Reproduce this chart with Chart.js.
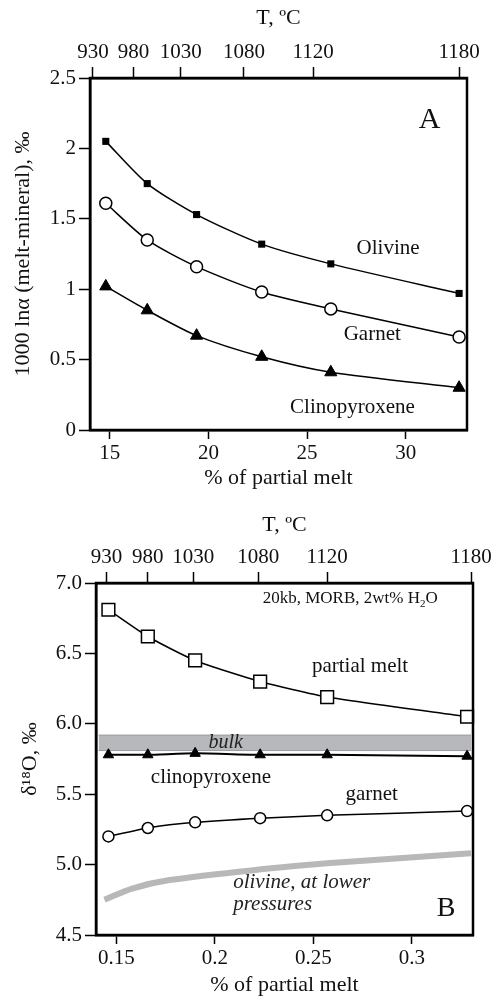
<!DOCTYPE html>
<html>
<head>
<meta charset="utf-8">
<script src="https://cdn.jsdelivr.net/npm/chart.js@4.4.0/dist/chart.umd.min.js"></script>
<style>
  html, body { margin: 0; padding: 0; background: #fff; }
  .box { position: absolute; left: 0; width: 497px; }
</style>
</head>
<body>
<div class="box" style="top:0;height:495px"><canvas id="chartA" width="497" height="495"></canvas></div>
<div class="box" style="top:498px;height:500px"><canvas id="chartB" width="497" height="500"></canvas></div>
<script>
// panel A: 1000 ln(alpha) vs % of partial melt
const meltA = [14.8, 16.9, 19.4, 22.7, 26.2, 32.7];
const olivineA = [2.05, 1.75, 1.53, 1.32, 1.18, 0.97];
const garnetA = [1.61, 1.35, 1.16, 0.98, 0.86, 0.66];
const cpxA = [1.02, 0.85, 0.67, 0.52, 0.41, 0.30];
const xTicksA = [15, 20, 25, 30];
const yTicksA = [0, 0.5, 1, 1.5, 2, 2.5];
const tempLabels = ['930', '980', '1030', '1080', '1120', '1180'];
const tempAtMeltA = [14.15, 16.2, 18.6, 21.8, 25.3, 32.7];

// panel B: d18O vs fraction of partial melt
const meltB = [0.146, 0.166, 0.190, 0.223, 0.257, 0.328];
const partialMeltB = [6.81, 6.62, 6.45, 6.30, 6.19, 6.05];
const cpxB = [5.78, 5.78, 5.79, 5.78, 5.78, 5.77];
const garnetB = [5.20, 5.26, 5.30, 5.33, 5.35, 5.38];
const olivineMeltB = [0.144, 0.158, 0.177, 0.226, 0.257, 0.330];
const olivineB = [4.75, 4.83, 4.89, 4.97, 5.01, 5.08];
const bulkMeltB = [0.141, 0.330];
const bulkLowB = [5.81, 5.81];
const bulkHighB = [5.92, 5.92];
const xTicksB = [0.15, 0.2, 0.25, 0.3];
const yTicksB = [4.5, 5.0, 5.5, 6.0, 6.5, 7.0];
const tempAtMeltB = [0.145, 0.166, 0.189, 0.222, 0.257, 0.330];

const FONT = '"Liberation Serif", "Times New Roman", serif';
Chart.defaults.font.family = FONT;
Chart.defaults.color = '#111';

const pts = (xs, ys) => xs.map((x, i) => ({ x: x, y: ys[i] }));
const ticksAt = values => scale => { scale.ticks = values.map(v => ({ value: v })); };

// box around the plot area
const framePlugin = {
  id: 'frame',
  afterDatasetsDraw(chart) {
    const { ctx, chartArea: a } = chart;
    ctx.save();
    ctx.strokeStyle = '#000';
    ctx.lineWidth = 2.5;
    ctx.strokeRect(a.left, a.top, a.right - a.left, a.bottom - a.top);
    ctx.restore();
  }
};

// text notes placed in data units
function notesPlugin(notes) {
  return {
    id: 'notes',
    afterDatasetsDraw(chart) {
      const ctx = chart.ctx, sx = chart.scales.x, sy = chart.scales.y;
      ctx.save();
      ctx.textBaseline = 'middle';
      ctx.textAlign = 'left';
      notes.forEach(n => {
        const parts = n.parts || [[n.text, false]];
        const font = sub => (n.italic ? 'italic ' : '') + (sub ? Math.round(n.size * 0.65) : n.size) + 'px ' + FONT;
        let w = 0;
        parts.forEach(p => { ctx.font = font(p[1]); w += ctx.measureText(p[0]).width; });
        let px = sx.getPixelForValue(n.x);
        if (n.align === 'center') px -= w / 2;
        const py = sy.getPixelForValue(n.y);
        ctx.fillStyle = n.color || '#111';
        parts.forEach(p => {
          ctx.font = font(p[1]);
          ctx.fillText(p[0], px, py + (p[1] ? n.size * 0.3 : 0));
          px += ctx.measureText(p[0]).width;
        });
      });
      ctx.restore();
    }
  };
}

function tickGrid(len) {
  return { drawOnChartArea: false, drawTicks: true, tickLength: len, tickWidth: 1.5, tickColor: '#000' };
}
const border = { color: '#000', width: 2.5 };

function makeChart(id, cfg) {
  return new Chart(document.getElementById(id), {
    type: 'line',
    data: { datasets: cfg.datasets },
    options: {
      responsive: false,
      animation: false,
      devicePixelRatio: 1,
      layout: { padding: { left: 0, right: cfg.right, top: 0, bottom: 0 } },
      plugins: { legend: { display: false }, tooltip: { enabled: false } },
      scales: {
        x: {
          type: 'linear', position: 'bottom', min: cfg.xMin, max: cfg.xMax,
          afterBuildTicks: ticksAt(cfg.xTicks),
          afterFit: s => { s.height = cfg.bottomH; },
          grid: tickGrid(9), border: border,
          ticks: { font: { size: 21 }, padding: cfg.xPad, maxRotation: 0, minRotation: 0, autoSkip: false,
                   callback: v => String(v) },
          title: { display: true, text: '% of partial melt', font: { size: 22 }, padding: { top: 0, bottom: cfg.xTitlePad } }
        },
        xTop: {
          type: 'linear', axis: 'x', position: 'top', min: cfg.xMin, max: cfg.xMax,
          afterBuildTicks: ticksAt(cfg.tempTicks),
          afterFit: s => { s.height = cfg.topH; },
          grid: tickGrid(11), border: border,
          ticks: { font: { size: 21 }, padding: cfg.topPad, maxRotation: 0, minRotation: 0, autoSkip: false,
                   callback: (v, i) => tempLabels[i] },
          title: { display: true, text: 'T, ºC', font: { size: 22 }, padding: { top: cfg.topTitlePad, bottom: 0 } }
        },
        y: {
          type: 'linear', position: 'left', min: cfg.yMin, max: cfg.yMax,
          afterBuildTicks: ticksAt(cfg.yTicks),
          afterFit: s => { s.width = cfg.leftW; },
          grid: tickGrid(11), border: border,
          ticks: { font: { size: 21 }, padding: 3, callback: cfg.yFmt },
          title: { display: true, text: cfg.yTitle, font: { size: 22 }, padding: { top: cfg.yTitlePad, bottom: 0 } }
        }
      }
    },
    plugins: [framePlugin, notesPlugin(cfg.notes)]
  });
}

makeChart('chartA', {
  right: 30, leftW: 90, topH: 78, bottomH: 65,
  xMin: 14, xMax: 33.1, yMin: 0, yMax: 2.5,
  xTicks: xTicksA, yTicks: yTicksA, tempTicks: tempAtMeltA,
  xPad: 2, xTitlePad: 4, topPad: 2, topTitlePad: 5, yTitlePad: 10,
  yFmt: v => String(v),
  yTitle: '1000 lnα (melt-mineral), ‰',
  datasets: [
    { data: pts(meltA, olivineA), borderColor: '#000', borderWidth: 1.5, tension: 0.25, clip: false,
      pointStyle: 'rect', pointRadius: 5, pointBackgroundColor: '#000', pointBorderColor: '#000', pointBorderWidth: 0 },
    { data: pts(meltA, garnetA), borderColor: '#000', borderWidth: 1.5, tension: 0.25, clip: false,
      pointStyle: 'circle', pointRadius: 6, pointBackgroundColor: '#fff', pointBorderColor: '#000', pointBorderWidth: 1.5 },
    { data: pts(meltA, cpxA), borderColor: '#000', borderWidth: 1.5, tension: 0.25, clip: false,
      pointStyle: 'triangle', pointRadius: 7, pointBackgroundColor: '#000', pointBorderColor: '#000', pointBorderWidth: 1 }
  ],
  notes: [
    { text: 'A', x: 31.2, y: 2.2, size: 30, align: 'center' },
    { text: 'Olivine', x: 29.1, y: 1.29, size: 21, align: 'center' },
    { text: 'Garnet', x: 28.3, y: 0.68, size: 21, align: 'center' },
    { text: 'Clinopyroxene', x: 27.3, y: 0.16, size: 21, align: 'center' }
  ]
});

makeChart('chartB', {
  right: 24, leftW: 96, topH: 85, bottomH: 63,
  xMin: 0.1397, xMax: 0.331, yMin: 4.5, yMax: 7.0,
  xTicks: xTicksB, yTicks: yTicksB, tempTicks: tempAtMeltB,
  xPad: 2, xTitlePad: 0, topPad: 2, topTitlePad: 14, yTitlePad: 17,
  yFmt: v => v.toFixed(1),
  yTitle: 'δ¹⁸O, ‰',
  datasets: [
    { data: pts(meltB, partialMeltB), borderColor: '#000', borderWidth: 1.5, tension: 0.2, clip: false,
      pointStyle: 'rect', pointRadius: 9, pointBackgroundColor: '#fff', pointBorderColor: '#000', pointBorderWidth: 1.5 },
    { data: pts(meltB, cpxB), borderColor: '#000', borderWidth: 2, tension: 0.2, clip: false,
      pointStyle: 'triangle', pointRadius: 6, pointBackgroundColor: '#000', pointBorderColor: '#000', pointBorderWidth: 1 },
    { data: pts(meltB, garnetB), borderColor: '#000', borderWidth: 1.5, tension: 0.2, clip: false,
      pointStyle: 'circle', pointRadius: 5.5, pointBackgroundColor: '#fff', pointBorderColor: '#000', pointBorderWidth: 1.5 },
    { data: pts(olivineMeltB, olivineB), borderColor: '#b8b8b8', borderWidth: 6, tension: 0.3, pointRadius: 0 },
    { data: pts(bulkMeltB, bulkLowB), borderColor: '#9d9d9f', borderWidth: 1, pointRadius: 0, fill: false },
    { data: pts(bulkMeltB, bulkHighB), borderColor: '#9d9d9f', borderWidth: 1, pointRadius: 0,
      fill: '-1', backgroundColor: '#b7b8bb' }
  ],
  notes: [
    { parts: [['20kb, MORB, 2wt% H', false], ['2', true], ['O', false]], x: 0.2687, y: 6.888, size: 17, align: 'center' },
    { text: 'partial melt', x: 0.2737, y: 6.405, size: 21, align: 'center' },
    { text: 'bulk', x: 0.2055, y: 5.865, size: 20, italic: true, align: 'center', color: '#222' },
    { text: 'clinopyroxene', x: 0.198, y: 5.617, size: 21, align: 'center' },
    { text: 'garnet', x: 0.2796, y: 5.495, size: 21, align: 'center' },
    { text: 'olivine, at lower', x: 0.2093, y: 4.87, size: 21, italic: true, align: 'left', color: '#222' },
    { text: 'pressures', x: 0.2093, y: 4.72, size: 21, italic: true, align: 'left', color: '#222' },
    { text: 'B', x: 0.3173, y: 4.69, size: 28, align: 'center' }
  ]
});
</script>
</body>
</html>
